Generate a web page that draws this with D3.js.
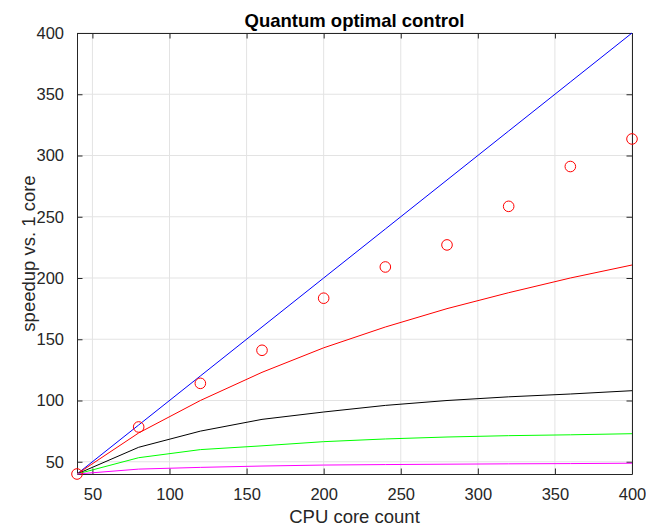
<!DOCTYPE html>
<html>
<head>
<meta charset="utf-8">
<script src="https://cdn.jsdelivr.net/npm/d3@7"></script>
<style>
  body { margin: 0; background: #fff; }
  text { font-family: "Liberation Sans", Arial, sans-serif; fill: #262626; }
</style>
</head>
<body>
<div id="viz"></div>
<script>
var width = 646;
var height = 526;

// core counts (x) and the speedup curves
var cores = [40, 80, 120, 160, 200, 240, 280, 320, 360, 400];
var ideal = [40, 80, 120, 160, 200, 240, 280, 320, 360, 400];
var measured = [40, 78.4, 114, 141, 183.5, 209, 227, 258.5, 291, 313.5];
var modelRed = [40, 73.5, 100, 123, 143, 160, 175, 188, 200, 210.6];
var modelBlack = [40, 61.8, 75, 84.6, 90.6, 96, 100, 103, 105.3, 108];
var modelGreen = [40, 53.3, 59.9, 63, 66.4, 68.6, 70.2, 71.3, 72, 72.9];
var modelMagenta = [40, 44, 45.4, 46.5, 47.3, 47.7, 48, 48.3, 48.5, 48.8];

var xTicks = [50, 100, 150, 200, 250, 300, 350, 400];
var yTicks = [50, 100, 150, 200, 250, 300, 350, 400];

var margin = {left: 77, right: 14, top: 33, bottom: 52};
var plotW = width - margin.left - margin.right;
var plotH = height - margin.top - margin.bottom;

var svg = d3.select("#viz").append("svg")
    .attr("width", width)
    .attr("height", height);

var g = svg.append("g")
    .attr("transform", "translate(" + margin.left + "," + margin.top + ")");

var x = d3.scaleLinear().domain([40, 400]).range([0, plotW]);
var y = d3.scaleLinear().domain([40, 400]).range([plotH, 0]);

// grid
g.selectAll(".vgrid").data(xTicks).enter().append("line")
    .attr("x1", d => x(d)).attr("x2", d => x(d))
    .attr("y1", 0).attr("y2", plotH)
    .style("stroke", "#e3e3e3").style("stroke-width", 1);
g.selectAll(".hgrid").data(yTicks).enter().append("line")
    .attr("y1", d => y(d)).attr("y2", d => y(d))
    .attr("x1", 0).attr("x2", plotW)
    .style("stroke", "#e3e3e3").style("stroke-width", 1);

// axes (ticks inside, box on)
var tickLen = 5.5;
function styleAxis(sel) {
  sel.select(".domain").style("stroke", "#262626");
  sel.selectAll(".tick line").style("stroke", "#262626");
  sel.selectAll("text")
    .style("font-family", "'Liberation Sans', Arial, sans-serif")
    .style("font-size", "16.5px")
    .style("fill", "#262626");
}

g.append("g")
    .attr("transform", "translate(0," + plotH + ")")
    .call(d3.axisBottom(x).tickValues(xTicks).tickSizeInner(-tickLen).tickSizeOuter(0).tickPadding(14))
    .call(styleAxis);
g.append("g")
    .call(d3.axisLeft(y).tickValues(yTicks).tickSizeInner(-tickLen).tickSizeOuter(0).tickPadding(13))
    .call(styleAxis);
g.append("g")
    .call(d3.axisTop(x).tickValues(xTicks).tickSizeInner(-tickLen).tickSizeOuter(0).tickFormat(""))
    .call(styleAxis);
g.append("g")
    .attr("transform", "translate(" + plotW + ",0)")
    .call(d3.axisRight(y).tickValues(yTicks).tickSizeInner(-tickLen).tickSizeOuter(0).tickFormat(""))
    .call(styleAxis);

// curves
var line = d3.line()
    .x((d, i) => x(cores[i]))
    .y(d => y(d));

var series = [
  {vals: ideal, color: "#0000ff"},
  {vals: modelRed, color: "#ff0000"},
  {vals: modelBlack, color: "#000000"},
  {vals: modelGreen, color: "#00ff00"},
  {vals: modelMagenta, color: "#ff00ff"}
];

series.forEach(function(s) {
  g.append("path")
      .datum(s.vals)
      .attr("d", line)
      .style("fill", "none")
      .style("stroke", s.color)
      .style("stroke-width", 1);
});

// measured points
g.selectAll(".pt").data(measured).enter().append("circle")
    .attr("cx", (d, i) => x(cores[i]))
    .attr("cy", d => y(d))
    .attr("r", 5.3)
    .style("fill", "none")
    .style("stroke", "#ff0000")
    .style("stroke-width", 1);

// labels
svg.append("text")
    .attr("x", margin.left + plotW / 2)
    .attr("y", 27)
    .attr("text-anchor", "middle")
    .style("font-size", "18.5px")
    .style("font-weight", "bold")
    .style("fill", "#000")
    .text("Quantum optimal control");

svg.append("text")
    .attr("x", margin.left + plotW / 2)
    .attr("y", 523)
    .attr("text-anchor", "middle")
    .style("font-size", "18.5px")
    .text("CPU core count");

svg.append("text")
    .attr("transform", "translate(35," + (margin.top + plotH / 2) + ") rotate(-90)")
    .attr("text-anchor", "middle")
    .style("font-size", "18.5px")
    .text("speedup vs. 1 core");
</script>
</body>
</html>
